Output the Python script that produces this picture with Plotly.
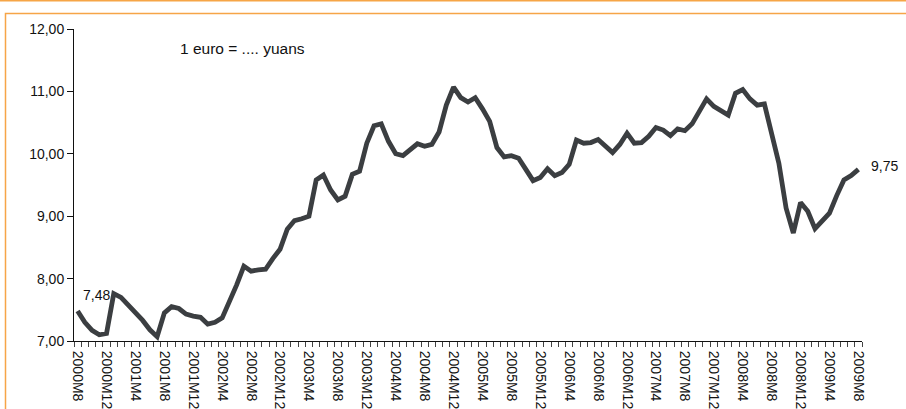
import plotly.graph_objects as go

# Monthly EUR/CNY rate, 2000M8 .. 2009M8
months = []
for y in range(2000, 2010):
    for m in range(1, 13):
        if (y == 2000 and m < 8) or (y == 2009 and m > 8):
            continue
        months.append(f"{y}M{m}")

rates = [
    7.48, 7.30, 7.17, 7.10, 7.12, 7.76, 7.70, 7.58, 7.47, 7.33,
    7.18, 7.07, 7.45, 7.55, 7.52, 7.43, 7.40, 7.38, 7.27, 7.30,
    7.37, 7.62, 7.90, 8.20, 8.12, 8.14, 8.15, 8.32, 8.47, 8.79,
    8.93, 8.96, 9.00, 9.58, 9.66, 9.42, 9.26, 9.32, 9.67, 9.72,
    10.17, 10.45, 10.48, 10.20, 10.00, 9.97, 10.06, 10.16, 10.12, 10.15,
    10.35, 10.78, 11.07, 10.90, 10.83, 10.90, 10.72, 10.52, 10.10, 9.95,
    9.97, 9.93, 9.75, 9.57, 9.62, 9.76, 9.65, 9.70, 9.83, 10.22,
    10.17, 10.18, 10.23, 10.12, 10.02, 10.15, 10.33, 10.17, 10.18, 10.28,
    10.42, 10.38, 10.29, 10.40, 10.37, 10.48, 10.70, 10.88, 10.76, 10.70,
    10.62, 10.97, 11.03, 10.88, 10.78, 10.80, 10.30, 9.85, 9.13, 8.73,
    9.22, 9.08, 8.80, 8.93, 9.05, 9.33, 9.58, 9.65, 9.75,
]

tick_idx = list(range(0, len(months), 4))
tick_text = [months[i] for i in tick_idx]
y_ticks = [7, 8, 9, 10, 11, 12]

title_text = "1 euro = .... yuans"
first_label = "7,48"
last_label = "9,75"

x = list(range(len(months)))

fig = go.Figure()
fig.add_trace(go.Scatter(
    x=x, y=rates, mode="lines",
    line=dict(color="#3b3e41", width=4.8),
    hoverinfo="skip", showlegend=False,
))

W, H = 906, 409
L, R, T, B = 74, 44, 29, 68
pw, ph = W - L - R, H - T - B

def px(xp):
    return (xp - L) / pw

def py(yp):
    return (H - B - yp) / ph

orange = "#F6A547"
fig.add_shape(type="line", xref="paper", yref="paper",
              x0=px(-5), x1=px(W + 5), y0=py(0.7), y1=py(0.7),
              line=dict(color=orange, width=1.5))
fig.add_shape(type="rect", xref="paper", yref="paper",
              x0=px(5.5), x1=px(W + 10), y0=py(13.5), y1=py(H + 10),
              line=dict(color=orange, width=1.5))

fig.add_annotation(x=px(242), y=py(48), xref="paper", yref="paper",
                   text=title_text, showarrow=False,
                   xanchor="center", yanchor="middle",
                   font=dict(size=15.5, color="#111"))
fig.add_annotation(x=x[0], y=rates[0], xref="x", yref="y",
                   text=first_label, showarrow=False,
                   xanchor="left", yanchor="middle", xshift=3, yshift=16,
                   font=dict(size=14, color="#111"))
fig.add_annotation(x=x[-1], y=rates[-1], xref="x", yref="y",
                   text=last_label, showarrow=False,
                   xanchor="left", yanchor="middle", xshift=11, yshift=3,
                   font=dict(size=14, color="#111"))

fig.update_layout(
    width=W, height=H,
    margin=dict(l=L, r=R, t=T, b=B, autoexpand=False),
    paper_bgcolor="white", plot_bgcolor="white",
    separators=",.",
    font=dict(family="Liberation Sans, Arial, sans-serif", color="#111"),
)
fig.update_xaxes(
    range=[-0.5, len(months) - 0.5], automargin=False,
    tickvals=tick_idx, ticktext=tick_text, tickangle=90,
    ticks="outside", ticklen=6, tickcolor="rgba(0,0,0,0)",
    minor=dict(ticks="outside", tick0=-0.5, dtick=1, ticklen=5,
               tickcolor="#444", tickwidth=1),
    showline=True, linecolor="#111", linewidth=1,
    showgrid=False, zeroline=False,
    tickfont=dict(size=14, color="#111"),
)
fig.update_yaxes(
    range=[7, 12], tickvals=y_ticks, tickformat=".2f", automargin=False,
    ticks="outside", ticklen=6, tickcolor="#111",
    showline=True, linecolor="#111", linewidth=1,
    showgrid=False, zeroline=False,
    tickfont=dict(size=14, color="#111"),
)

fig.write_html(
    "out.html",
    config={"displayModeBar": False},
    post_script="document.body.style.margin='0';document.body.style.overflow='hidden';",
)
